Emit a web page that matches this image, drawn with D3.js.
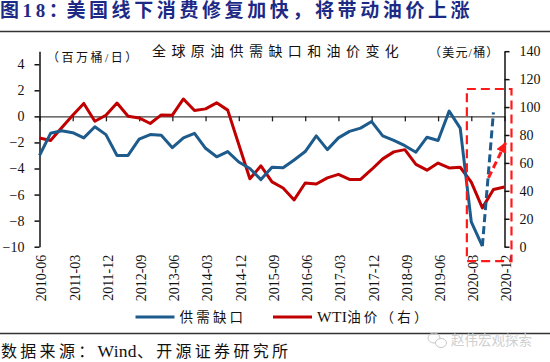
<!DOCTYPE html>
<html>
<head>
<meta charset="utf-8">
<script src="https://cdn.jsdelivr.net/npm/d3@7"></script>
<style>
  body { margin: 0; background: #fff; }
  svg { display: block; }
  text { font-family: "Liberation Serif", "Noto Sans CJK SC", serif; }
</style>
</head>
<body>
<svg id="chart" width="550" height="362"></svg>
<script>
// Quarterly categories
const categories = [
  "2010-06", "2010-09", "2010-12",
  "2011-03", "2011-06", "2011-09", "2011-12",
  "2012-03", "2012-06", "2012-09", "2012-12",
  "2013-03", "2013-06", "2013-09", "2013-12",
  "2014-03", "2014-06", "2014-09", "2014-12",
  "2015-03", "2015-06", "2015-09", "2015-12",
  "2016-03", "2016-06", "2016-09", "2016-12",
  "2017-03", "2017-06", "2017-09", "2017-12",
  "2018-03", "2018-06", "2018-09", "2018-12",
  "2019-03", "2019-06", "2019-09", "2019-12",
  "2020-03", "2020-06", "2020-09", "2020-12"
];

// Supply-demand gap (million barrels / day), left axis
const gap = [
  -3.0, -1.3, -1.1, -1.25, -1.65, -0.8, -1.4, -3.0, -3.0, -1.75,
  -1.4, -1.45, -2.4, -1.65, -1.3, -2.45, -3.1, -2.7, -3.5, -4.0,
  -4.85, -3.9, -3.95, -3.35, -2.7, -1.5, -2.55, -1.65, -1.15, -0.9,
  -0.4, -1.5, -1.85, -2.25, -2.75, -1.6, -1.85, 0.4, -0.9, -8.1,
  -9.95
];

// Projected rebound of the gap (dashed)
const forecastCategories = ["2020-06", "2020-09"];
const forecastGap = [-9.95, 0.3];

// WTI price (USD / barrel), right axis
const wti = [
  77.8, 76.1, 85.2, 94.1, 102.6, 89.8, 94.1, 102.9, 93.4, 92.2,
  88.2, 94.4, 94.2, 105.8, 97.5, 98.7, 103.0, 97.8, 73.2, 48.6,
  57.9, 46.4, 42.0, 33.5, 45.6, 44.9, 49.3, 51.8, 48.2, 48.2,
  55.3, 62.9, 67.9, 69.5, 59.0, 54.8, 59.9, 56.4, 56.9, 46.2,
  27.8, 40.9, 42.7
];

const leftTicks = [-10, -8, -6, -4, -2, 0, 2, 4];
const rightTicks = [0, 20, 40, 60, 80, 100, 120, 140];
const xTickValues = categories.filter((d, i) => i % 3 === 0);

const blue = "#1d5b8c";
const red = "#c00000";
const brightRed = "#ff1a1a";

const svg = d3.select("#chart");
const svgWidth = 550;

// Plot frame
const plotLeft = 39.5;
const plotRight = 504.5;
const plotTop = 51.2;
const plotBottom = 246.7;

const x = d3.scalePoint().domain(categories).range([plotLeft, plotRight]);
// fractional positions for the annotations
const xIndex = d3.scaleLinear().domain([0, categories.length - 1]).range([plotLeft, plotRight]);
const yLeft = d3.scaleLinear().domain([-10, 5]).range([plotBottom, plotTop]);
const yRight = d3.scaleLinear().domain([0, 140]).range([plotBottom, plotTop]);

// Header
const title = svg.append("text")
  .attr("x", 0)
  .attr("y", 16.5)
  .attr("fill", "#1c2a86")
  .attr("font-weight", "bold")
  .attr("font-size", 19)
  .attr("letter-spacing", 3.6);
title.append("tspan").text("图18：");
title.append("tspan").attr("dx", -5).text("美国线下消费修复加快，将带动油价上涨");

svg.append("line")
  .attr("x1", 0).attr("x2", svgWidth)
  .attr("y1", 31.5).attr("y2", 31.5)
  .attr("stroke", "#333").attr("stroke-width", 1.5);

svg.append("text")
  .attr("x", 152)
  .attr("y", 55.5)
  .attr("font-size", 14)
  .attr("letter-spacing", 5.4)
  .attr("fill", "#111")
  .text("全球原油供需缺口和油价变化");

svg.append("text")
  .attr("x", 47)
  .attr("y", 61.5)
  .attr("font-size", 12)
  .attr("letter-spacing", 2.5)
  .attr("fill", "#111")
  .text("（百万桶/日）");

svg.append("text")
  .attr("x", 429)
  .attr("y", 57)
  .attr("font-size", 12)
  .attr("letter-spacing", 1.2)
  .attr("fill", "#111")
  .text("（美元/桶）");

// Zero line with category ticks
const zeroAxis = svg.append("g")
  .attr("transform", `translate(0, ${yLeft(0)})`)
  .call(d3.axisBottom(x).tickValues(xTickValues).tickSize(5).tickSizeOuter(0).tickFormat(""));
zeroAxis.select(".domain").attr("stroke", "#404040").attr("stroke-width", 1.3);
zeroAxis.selectAll(".tick line").attr("stroke", "#222").attr("stroke-width", 1.3);

// Category labels at the bottom
const labelAxis = svg.append("g")
  .attr("transform", `translate(1.5, ${plotBottom + 8})`)
  .call(d3.axisBottom(x).tickValues(xTickValues).tickSize(0).tickPadding(0));
labelAxis.select(".domain").remove();
labelAxis.selectAll(".tick text")
  .attr("font-size", 14)
  .attr("font-family", "Liberation Serif")
  .attr("fill", "#111")
  .attr("text-anchor", "end")
  .attr("transform", "rotate(-90)")
  .attr("x", 0)
  .attr("y", 0)
  .attr("dx", 0)
  .attr("dy", "0.35em");

// Left axis
const leftAxis = svg.append("g")
  .attr("transform", `translate(${plotLeft}, 0)`)
  .call(d3.axisLeft(yLeft).tickValues(leftTicks).tickSize(5).tickSizeOuter(0).tickPadding(10));
leftAxis.select(".domain").attr("stroke", "#111").attr("stroke-width", 1.5);
leftAxis.selectAll(".tick line").attr("stroke", "#111").attr("stroke-width", 1.5);
leftAxis.selectAll(".tick text")
  .attr("font-size", 14)
  .attr("font-family", "Liberation Serif")
  .attr("fill", "#111");

// Right axis
const rightAxis = svg.append("g")
  .attr("transform", `translate(${plotRight}, 0)`)
  .call(d3.axisRight(yRight).tickValues(rightTicks).tickSize(5).tickSizeOuter(0).tickPadding(10));
rightAxis.select(".domain").attr("stroke", "#111").attr("stroke-width", 1.5);
rightAxis.selectAll(".tick line").attr("stroke", "#111").attr("stroke-width", 1.5);
rightAxis.selectAll(".tick text")
  .attr("font-size", 14)
  .attr("font-family", "Liberation Serif")
  .attr("fill", "#111");

// Lines
const gapLine = d3.line()
  .x((d, i) => x(categories[i]))
  .y(d => yLeft(d));
const forecastLine = d3.line()
  .x((d, i) => x(forecastCategories[i]))
  .y(d => yLeft(d));
const wtiLine = d3.line()
  .x((d, i) => x(categories[i]))
  .y(d => yRight(d));

svg.append("path")
  .datum(wti)
  .attr("d", wtiLine)
  .attr("fill", "none")
  .attr("stroke", red)
  .attr("stroke-width", 3)
  .attr("stroke-linejoin", "round");

svg.append("path")
  .datum(gap)
  .attr("d", gapLine)
  .attr("fill", "none")
  .attr("stroke", blue)
  .attr("stroke-width", 3)
  .attr("stroke-linejoin", "round");

svg.append("path")
  .datum(forecastGap)
  .attr("d", forecastLine)
  .attr("fill", "none")
  .attr("stroke", blue)
  .attr("stroke-width", 3)
  .attr("stroke-dasharray", "8,4");

// Highlight box and arrow
svg.append("rect")
  .attr("x", xIndex(38.6))
  .attr("y", yLeft(2.1))
  .attr("width", xIndex(42.63) - xIndex(38.6))
  .attr("height", yLeft(-11.1) - yLeft(2.1))
  .attr("fill", "none")
  .attr("stroke", brightRed)
  .attr("stroke-width", 2.2)
  .attr("stroke-dasharray", "9,5");

svg.append("defs").append("marker")
  .attr("id", "arrow")
  .attr("viewBox", "0 0 10 10")
  .attr("refX", 9)
  .attr("refY", 5)
  .attr("markerWidth", 3.6)
  .attr("markerHeight", 3.6)
  .attr("orient", "auto")
  .append("path")
  .attr("d", "M0,0L10,5L0,10Z")
  .attr("fill", brightRed);

svg.append("line")
  .attr("x1", xIndex(40.55)).attr("y1", yRight(49.3))
  .attr("x2", xIndex(42.1)).attr("y2", yRight(74.4))
  .attr("stroke", brightRed)
  .attr("stroke-width", 3)
  .attr("stroke-dasharray", "7,4")
  .attr("marker-end", "url(#arrow)");

// Legend
const legendItems = [
  { latin: "", label: "供需缺口", color: blue, x: 135.5 },
  { latin: "WTI", label: "油价（右）", color: red, x: 273 }
];
const legend = svg.append("g").attr("transform", "translate(0, 317)");
legendItems.forEach(item => {
  legend.append("line")
    .attr("x1", item.x).attr("x2", item.x + 39)
    .attr("y1", 0).attr("y2", 0)
    .attr("stroke", item.color)
    .attr("stroke-width", 3);
  const t = legend.append("text")
    .attr("x", item.x + 44)
    .attr("y", 5)
    .attr("font-size", 13.5)
    .attr("fill", "#111");
  if (item.latin) {
    t.append("tspan").attr("font-size", 15.5).attr("letter-spacing", 0.3).text(item.latin);
  }
  t.append("tspan").attr("letter-spacing", 3.2).text(item.label);
});

// Footer
svg.append("line")
  .attr("x1", 0).attr("x2", svgWidth)
  .attr("y1", 333.5).attr("y2", 333.5)
  .attr("stroke", "#333").attr("stroke-width", 1.5);

const source = svg.append("text")
  .attr("x", 1)
  .attr("y", 356.5)
  .attr("font-size", 16)
  .attr("fill", "#111");
source.append("tspan").attr("letter-spacing", 3.3).text("数据来源：");
source.append("tspan").attr("font-size", 17.5).attr("letter-spacing", 0.3).text("Wind");
source.append("tspan").attr("letter-spacing", 3.3).text("、开源证券研究所");

// Watermark
const mark = svg.append("g").attr("fill", "none").attr("stroke", "#c8c8c8").attr("stroke-width", 1);
mark.append("ellipse").attr("cx", 434).attr("cy", 338).attr("rx", 6).attr("ry", 5);
mark.append("ellipse").attr("cx", 441).attr("cy", 343).attr("rx", 5.5).attr("ry", 4.5).attr("fill", "#fff");
svg.append("text")
  .attr("x", 451)
  .attr("y", 345)
  .attr("font-size", 13.5)
  .attr("fill", "#cfcfcf")
  .text("赵伟宏观探索");
</script>
</body>
</html>
